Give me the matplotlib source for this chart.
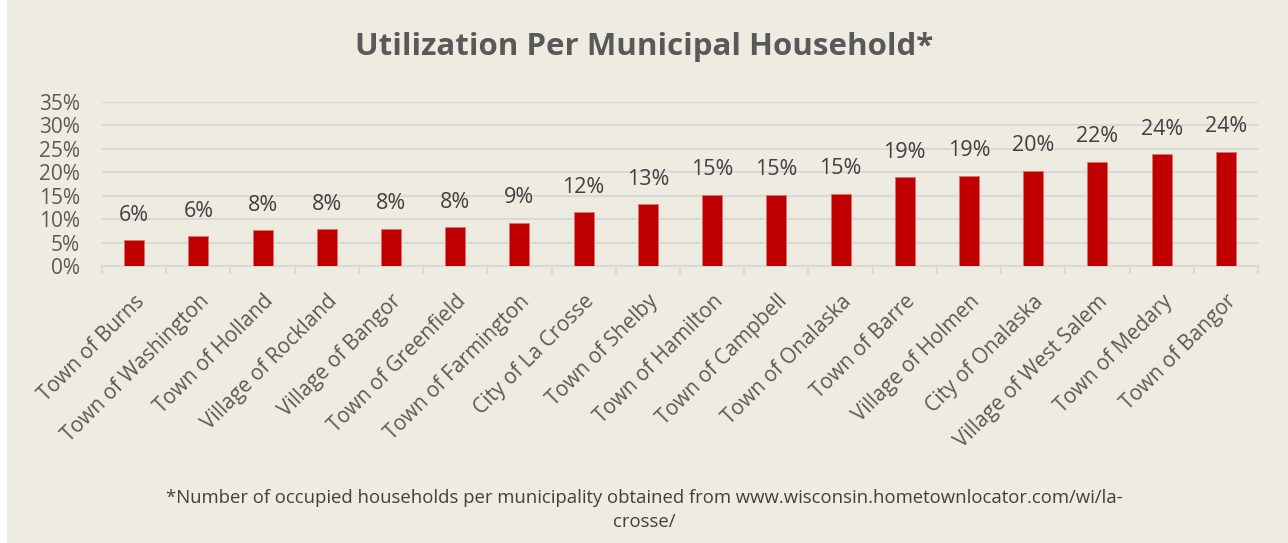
import matplotlib.pyplot as plt
import matplotlib.patches as mpatches
import numpy as np

plt.rcParams['font.family'] = ['Open Sans', 'DejaVu Sans']

municipalities = ['Town of Burns', 'Town of Washington', 'Town of Holland', 'Village of Rockland',
                  'Village of Bangor', 'Town of Greenfield', 'Town of Farmington', 'City of La Crosse',
                  'Town of Shelby', 'Town of Hamilton', 'Town of Campbell', 'Town of Onalaska',
                  'Town of Barre', 'Village of Holmen', 'City of Onalaska', 'Village of West Salem',
                  'Town of Medary', 'Town of Bangor']
utilization = [0.055, 0.063, 0.076, 0.078, 0.080, 0.083, 0.092, 0.115,
               0.132, 0.152, 0.152, 0.154, 0.189, 0.193, 0.203, 0.223,
               0.238, 0.244]
y_ticks = [0, 0.05, 0.10, 0.15, 0.20, 0.25, 0.30, 0.35]

bg = '#EEEBE0'
fig = plt.figure(figsize=(12.88, 5.43), dpi=100)
fig.patch.set_facecolor(bg)
fig.patches.append(mpatches.Rectangle((0, 0), 7 / 1288, 1, transform=fig.transFigure,
                                      facecolor='white', edgecolor='none', zorder=0))

ax = fig.add_axes([102 / 1288, 1 - 266 / 543, 1156 / 1288, 164 / 543])
ax.set_facecolor(bg)

x = np.arange(len(municipalities))
ax.bar(x, utilization, width=0.31, color='#C00000', edgecolor='#E07070', linewidth=0.6, zorder=3)

for xi, v in zip(x, utilization):
    ax.annotate('{:.0%}'.format(v), (xi, v), xytext=(0, 18), textcoords='offset points',
                ha='center', va='center', fontsize=15.5, color='#404040')

ax.set_xlim(-0.5, len(municipalities) - 0.5)
ax.set_ylim(0, 0.35)
ax.set_yticks(y_ticks)
ax.set_yticklabels(['{:.0%}'.format(t) for t in y_ticks], fontsize=15, color='#595959')
ax.yaxis.grid(True, color='#D9D9D9', linewidth=1.5, zorder=0)
ax.tick_params(axis='y', length=0, pad=16)

ax.set_xticks(x)
ax.set_xticklabels(municipalities, rotation=45, ha='right', rotation_mode='anchor',
                   fontsize=15, color='#595959')
ax.set_xticks(np.arange(-0.5, len(municipalities)), minor=True)
ax.tick_params(axis='x', which='major', length=0, pad=18)
ax.tick_params(axis='x', which='minor', length=6, color='#D9D9D9', width=1.5)

for s in ['top', 'right', 'left']:
    ax.spines[s].set_visible(False)
ax.spines['bottom'].set_color('#D9D9D9')
ax.spines['bottom'].set_linewidth(1.5)

fig.text(0.5, 1 - 47 / 543, 'Utilization Per Municipal Household*', ha='center', va='center',
         fontsize=22.5, fontweight='bold', color='#595959')
fig.text(0.5, 1 - 510 / 543,
         '*Number of occupied households per municipality obtained from www.wisconsin.hometownlocator.com/wi/la-\ncrosse/',
         ha='center', va='center', fontsize=13.3, color='#404040', linespacing=1.45)

fig.savefig('out.png', dpi=100, facecolor=bg)
